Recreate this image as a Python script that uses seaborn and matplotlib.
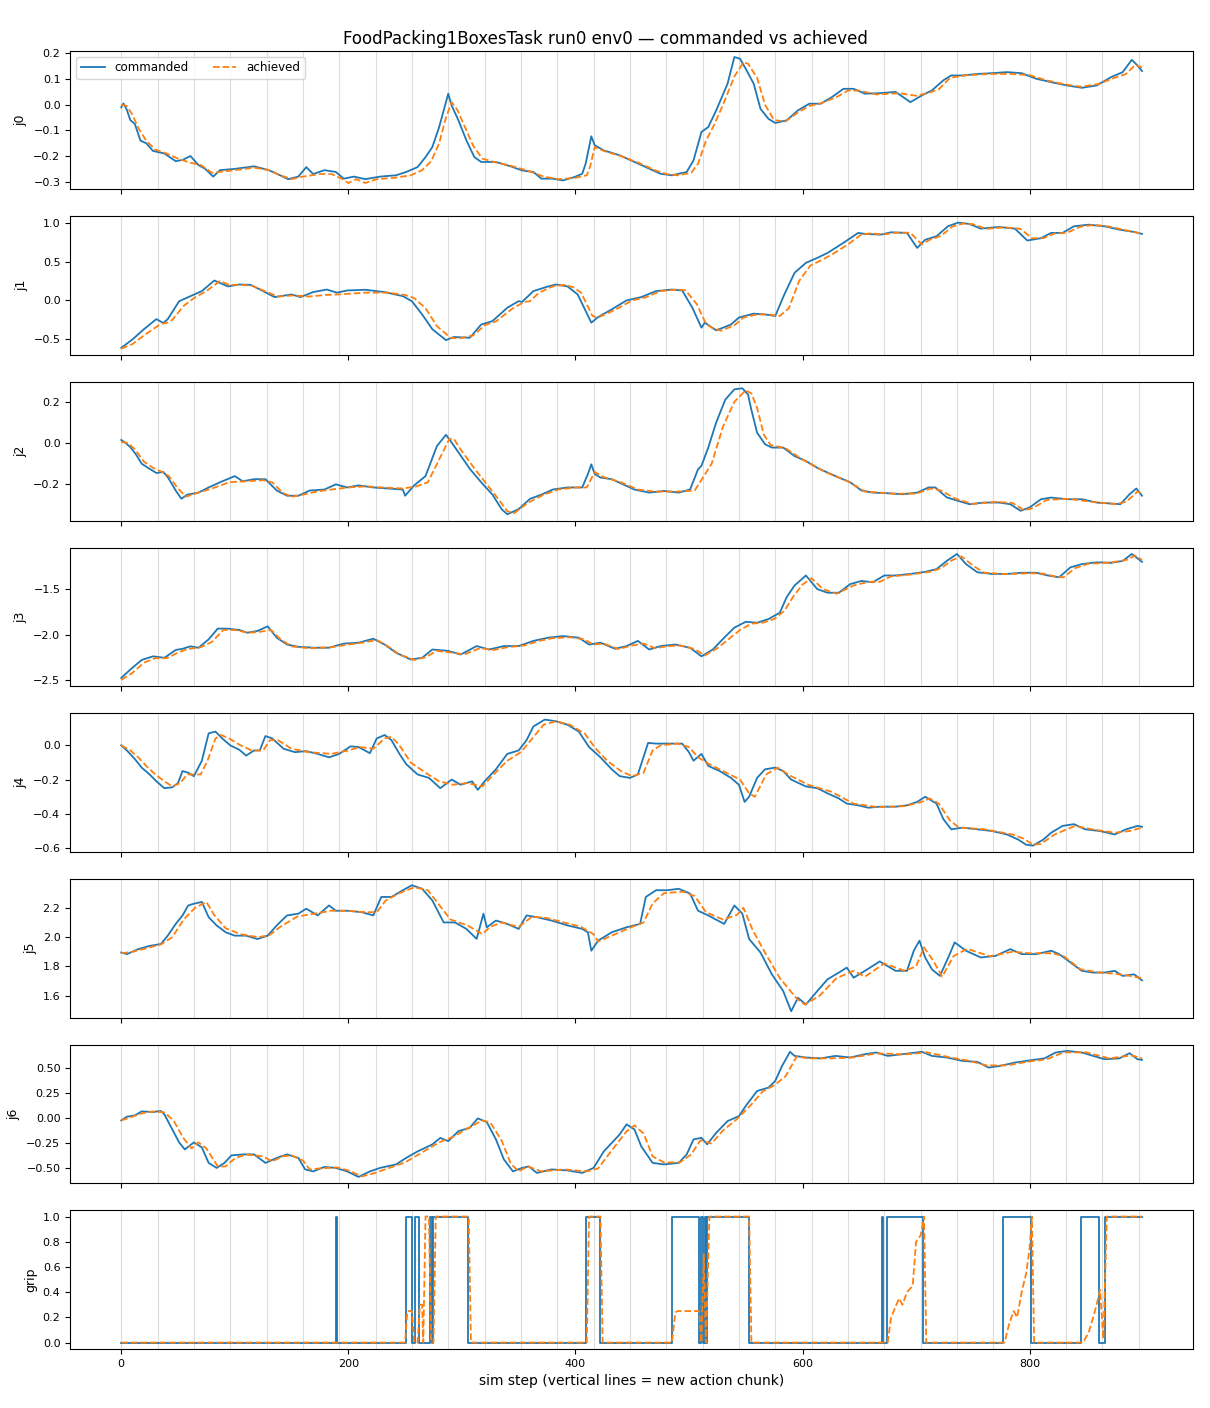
import numpy as np
import matplotlib
matplotlib.use("Agg")
import matplotlib.pyplot as plt
import seaborn as sns

# (sim step, value) pairs
j0_cmd = [(0,-0.01),(2,0.005),(5,-0.02),(8,-0.06),(12,-0.075),(17,-0.14),(22,-0.15),(28,-0.18),(38,-0.19),(48,-0.22),(54,-0.215),(61,-0.2),(68,-0.235),(74,-0.25),(81,-0.28),(87,-0.255),(100,-0.25),(117,-0.24),(130,-0.255),(140,-0.275),(147,-0.29),(156,-0.28),(163,-0.243),(169,-0.27),(179,-0.255),(189,-0.262),(196,-0.288),(205,-0.28),(215,-0.29),(228,-0.28),(242,-0.275),(251,-0.262),(261,-0.243),(268,-0.204),(274,-0.165),(280,-0.087),(284,-0.022),(288,0.043),(291,-0.003),(297,-0.061),(304,-0.139),(311,-0.204),(317,-0.223),(330,-0.223),(343,-0.24),(353,-0.256),(363,-0.262),(370,-0.288),(380,-0.288),(389,-0.295),(399,-0.282),(406,-0.269),(409,-0.23),(414,-0.123),(417,-0.158),(425,-0.178),(439,-0.197),(452,-0.223),(465,-0.249),(475,-0.269),(485,-0.275),(498,-0.262),(504,-0.217),(511,-0.106),(517,-0.087),(524,-0.022),(534,0.082),(540,0.186),(545,0.179),(550,0.14),(557,0.082),(563,-0.016),(570,-0.055),(576,-0.071),(586,-0.061),(596,-0.022),(606,0.004),(616,0.004),(626,0.03),(636,0.062),(645,0.062),(655,0.043),(668,0.045),(682,0.05),(695,0.01),(705,0.036),(714,0.056),(724,0.095),(731,0.114),(741,0.114),(754,0.12),(767,0.123),(780,0.127),(793,0.123),(806,0.101),(819,0.088),(833,0.075),(846,0.066),(859,0.075),(872,0.108),(882,0.127),(890,0.175),(895,0.153),(899,0.131)]
j0_ach = [(0,0.0),(5,-0.005),(10,-0.04),(15,-0.09),(22,-0.14),(30,-0.175),(40,-0.19),(50,-0.21),(60,-0.225),(70,-0.235),(80,-0.265),(90,-0.26),(100,-0.255),(117,-0.245),(130,-0.255),(140,-0.275),(150,-0.29),(160,-0.28),(175,-0.27),(185,-0.27),(195,-0.29),(200,-0.305),(207,-0.29),(215,-0.305),(225,-0.29),(240,-0.285),(255,-0.275),(265,-0.255),(273,-0.22),(280,-0.15),(286,-0.05),(291,0.01),(296,-0.02),(302,-0.08),(310,-0.16),(318,-0.21),(330,-0.225),(345,-0.24),(360,-0.26),(372,-0.28),(385,-0.29),(400,-0.285),(410,-0.275),(413,-0.24),(417,-0.165),(425,-0.18),(440,-0.2),(455,-0.225),(470,-0.255),(480,-0.27),(490,-0.275),(502,-0.265),(508,-0.23),(515,-0.14),(522,-0.08),(530,0.0),(540,0.11),(548,0.165),(552,0.16),(560,0.105),(567,0.0),(575,-0.06),(585,-0.065),(596,-0.03),(606,-0.005),(616,0.005),(630,0.03),(640,0.055),(650,0.055),(665,0.04),(685,0.045),(700,0.035),(710,0.045),(720,0.06),(730,0.105),(745,0.115),(765,0.12),(785,0.12),(800,0.115),(815,0.095),(830,0.08),(845,0.07),(860,0.08),(875,0.105),(885,0.12),(893,0.155),(899,0.145)]

j1_cmd = [(0,-0.61),(10,-0.5),(20,-0.37),(31,-0.24),(37,-0.29),(41,-0.24),(51,-0.01),(61,0.055),(71,0.12),(82,0.256),(94,0.18),(104,0.205),(114,0.2),(125,0.12),(135,0.043),(150,0.077),(158,0.043),(169,0.107),(181,0.14),(190,0.1),(199,0.128),(215,0.137),(232,0.107),(248,0.055),(256,-0.01),(265,-0.18),(274,-0.37),(286,-0.51),(293,-0.47),(307,-0.48),(317,-0.31),(327,-0.265),(340,-0.094),(350,-0.009),(353,-0.02),(363,0.12),(376,0.18),(383,0.205),(393,0.18),(402,0.077),(414,-0.286),(420,-0.214),(432,-0.115),(445,0.0),(458,0.043),(471,0.12),(485,0.14),(494,0.128),(503,-0.094),(511,-0.35),(514,-0.286),(524,-0.385),(537,-0.31),(544,-0.22),(557,-0.17),(567,-0.18),(576,-0.2),(584,0.077),(593,0.355),(603,0.483),(613,0.547),(622,0.61),(636,0.74),(649,0.868),(655,0.855),(669,0.846),(678,0.876),(692,0.868),(701,0.675),(708,0.78),(718,0.825),(728,0.953),(737,1.0),(747,0.983),(757,0.923),(773,0.944),(787,0.923),(798,0.77),(810,0.8),(819,0.868),(829,0.868),(839,0.953),(852,0.974),(866,0.953),(879,0.91),(892,0.88),(899,0.855)]
j1_ach = [(0,-0.62),(10,-0.56),(20,-0.45),(35,-0.3),(40,-0.29),(45,-0.25),(55,-0.07),(65,0.04),(75,0.12),(87,0.25),(95,0.2),(105,0.2),(115,0.19),(128,0.11),(138,0.05),(152,0.065),(165,0.05),(180,0.07),(195,0.08),(215,0.1),(235,0.1),(250,0.07),(258,0.03),(268,-0.1),(278,-0.33),(290,-0.48),(297,-0.49),(310,-0.45),(320,-0.32),(330,-0.27),(345,-0.1),(355,-0.02),(360,-0.01),(368,0.1),(380,0.18),(390,0.2),(398,0.17),(405,0.1),(415,-0.2),(420,-0.22),(435,-0.12),(450,0.0),(462,0.04),(475,0.12),(490,0.14),(497,0.13),(507,-0.05),(515,-0.3),(520,-0.35),(528,-0.39),(540,-0.32),(548,-0.22),(560,-0.18),(570,-0.18),(580,-0.2),(588,-0.1),(597,0.25),(607,0.45),(617,0.52),(627,0.6),(640,0.72),(652,0.85),(660,0.86),(672,0.85),(682,0.87),(695,0.87),(705,0.72),(712,0.78),(722,0.83),(732,0.95),(742,0.99),(750,0.98),(762,0.92),(778,0.94),(792,0.92),(802,0.8),(812,0.8),(822,0.86),(833,0.87),(845,0.95),(857,0.97),(870,0.95),(885,0.9),(899,0.86)]

j2_cmd = [(0,0.015),(4,0.0),(8,-0.02),(13,-0.055),(18,-0.1),(25,-0.125),(31,-0.145),(37,-0.14),(41,-0.165),(48,-0.23),(53,-0.27),(58,-0.25),(68,-0.24),(77,-0.215),(87,-0.19),(100,-0.16),(107,-0.185),(117,-0.175),(127,-0.175),(137,-0.23),(146,-0.255),(156,-0.255),(166,-0.23),(179,-0.225),(189,-0.2),(199,-0.215),(209,-0.205),(222,-0.215),(235,-0.22),(248,-0.225),(250,-0.255),(258,-0.205),(268,-0.16),(278,-0.015),(286,0.04),(290,0.01),(297,-0.045),(307,-0.125),(317,-0.19),(327,-0.25),(335,-0.32),(340,-0.345),(350,-0.32),(360,-0.27),(370,-0.25),(380,-0.225),(393,-0.215),(406,-0.215),(411,-0.15),(414,-0.103),(417,-0.15),(422,-0.167),(432,-0.175),(442,-0.2),(452,-0.225),(465,-0.24),(478,-0.232),(491,-0.24),(501,-0.225),(508,-0.127),(511,-0.11),(517,-0.022),(524,0.1),(532,0.21),(540,0.26),(547,0.265),(552,0.235),(555,0.16),(560,0.05),(567,-0.006),(573,-0.022),(583,-0.022),(593,-0.063),(603,-0.087),(613,-0.12),(622,-0.143),(632,-0.167),(642,-0.19),(652,-0.23),(662,-0.24),(675,-0.243),(688,-0.248),(701,-0.24),(711,-0.215),(717,-0.215),(727,-0.263),(737,-0.28),(747,-0.296),(760,-0.288),(773,-0.288),(783,-0.296),(792,-0.328),(800,-0.312),(810,-0.272),(819,-0.264),(833,-0.272),(846,-0.272),(859,-0.288),(872,-0.293),(880,-0.296),(888,-0.248),(894,-0.22),(899,-0.255)]
j2_ach = [(0,0.005),(6,0.0),(12,-0.03),(20,-0.09),(28,-0.12),(36,-0.14),(42,-0.16),(50,-0.22),(57,-0.26),(65,-0.245),(80,-0.22),(95,-0.19),(110,-0.185),(125,-0.18),(133,-0.19),(142,-0.24),(150,-0.26),(160,-0.25),(172,-0.235),(185,-0.225),(200,-0.215),(215,-0.21),(230,-0.215),(248,-0.22),(260,-0.21),(270,-0.19),(280,-0.08),(289,0.02),(293,0.02),(300,-0.04),(312,-0.13),(322,-0.2),(332,-0.27),(340,-0.33),(346,-0.34),(358,-0.29),(372,-0.25),(385,-0.225),(400,-0.215),(410,-0.215),(417,-0.14),(425,-0.165),(440,-0.19),(455,-0.225),(470,-0.235),(490,-0.235),(505,-0.23),(512,-0.17),(520,-0.1),(530,0.08),(540,0.2),(550,0.255),(555,0.24),(560,0.17),(566,0.04),(572,-0.01),(585,-0.025),(600,-0.08),(620,-0.14),(640,-0.185),(655,-0.235),(680,-0.245),(700,-0.245),(713,-0.22),(722,-0.23),(735,-0.27),(750,-0.295),(770,-0.285),(785,-0.29),(795,-0.325),(803,-0.315),(815,-0.275),(835,-0.27),(855,-0.285),(875,-0.295),(885,-0.285),(895,-0.235),(899,-0.245)]

j3_cmd = [(0,-2.478),(8,-2.386),(18,-2.28),(28,-2.24),(38,-2.256),(48,-2.17),(54,-2.157),(61,-2.13),(68,-2.146),(77,-2.053),(85,-1.935),(94,-1.935),(104,-1.95),(111,-1.98),(120,-1.96),(129,-1.91),(137,-2.035),(146,-2.11),(156,-2.135),(169,-2.145),(183,-2.145),(196,-2.1),(209,-2.09),(222,-2.046),(232,-2.11),(242,-2.2),(255,-2.275),(265,-2.256),(274,-2.165),(288,-2.18),(299,-2.22),(313,-2.127),(324,-2.165),(337,-2.127),(350,-2.127),(363,-2.07),(376,-2.035),(389,-2.017),(403,-2.035),(412,-2.11),(422,-2.09),(435,-2.157),(445,-2.127),(455,-2.07),(465,-2.165),(475,-2.127),(488,-2.11),(501,-2.146),(511,-2.24),(521,-2.165),(531,-2.035),(540,-1.924),(550,-1.86),(560,-1.87),(570,-1.83),(580,-1.76),(586,-1.59),(593,-1.46),(603,-1.35),(613,-1.5),(622,-1.54),(632,-1.54),(642,-1.445),(652,-1.41),(662,-1.425),(672,-1.35),(682,-1.35),(695,-1.333),(708,-1.31),(718,-1.28),(727,-1.19),(736,-1.113),(744,-1.225),(754,-1.315),(767,-1.333),(780,-1.333),(793,-1.32),(806,-1.32),(816,-1.35),(826,-1.37),(836,-1.26),(846,-1.225),(859,-1.205),(872,-1.21),(882,-1.19),(890,-1.113),(899,-1.2)]
j3_ach = [(0,-2.5),(10,-2.42),(20,-2.31),(30,-2.26),(40,-2.26),(50,-2.2),(58,-2.16),(70,-2.14),(80,-2.08),(90,-1.95),(100,-1.95),(112,-1.98),(122,-1.97),(132,-1.95),(140,-2.05),(150,-2.13),(165,-2.15),(185,-2.14),(200,-2.11),(212,-2.09),(225,-2.06),(235,-2.13),(245,-2.22),(258,-2.28),(268,-2.25),(278,-2.18),(292,-2.2),(302,-2.22),(316,-2.15),(328,-2.17),(340,-2.14),(355,-2.12),(368,-2.07),(380,-2.04),(395,-2.03),(407,-2.05),(416,-2.11),(425,-2.1),(438,-2.16),(450,-2.12),(460,-2.1),(470,-2.15),(480,-2.13),(492,-2.12),(505,-2.16),(514,-2.23),(525,-2.15),(535,-2.05),(545,-1.95),(555,-1.88),(565,-1.87),(575,-1.83),(584,-1.74),(592,-1.58),(600,-1.45),(608,-1.38),(618,-1.5),(630,-1.55),(645,-1.46),(658,-1.42),(668,-1.42),(678,-1.36),(695,-1.34),(712,-1.31),(722,-1.27),(732,-1.18),(740,-1.14),(750,-1.24),(760,-1.32),(780,-1.335),(800,-1.325),(812,-1.33),(822,-1.36),(830,-1.37),(840,-1.27),(852,-1.22),(870,-1.21),(885,-1.18),(893,-1.13),(899,-1.18)]

j4_cmd = [(0,0.0),(5,-0.03),(12,-0.08),(18,-0.13),(25,-0.17),(31,-0.21),(38,-0.25),(45,-0.245),(50,-0.22),(54,-0.15),(59,-0.16),(64,-0.18),(71,-0.09),(77,0.07),(83,0.08),(89,0.04),(96,0.0),(104,-0.026),(110,-0.06),(117,-0.03),(122,-0.03),(127,0.054),(133,0.04),(143,-0.02),(153,-0.04),(163,-0.034),(173,-0.05),(183,-0.07),(192,-0.05),(202,-0.006),(209,-0.01),(219,-0.046),(225,0.04),(232,0.06),(238,0.03),(245,-0.05),(251,-0.11),(261,-0.17),(271,-0.19),(281,-0.25),(291,-0.2),(299,-0.23),(309,-0.21),(314,-0.26),(320,-0.21),(330,-0.14),(340,-0.05),(350,-0.03),(357,0.03),(363,0.11),(373,0.15),(383,0.14),(393,0.12),(403,0.08),(412,-0.01),(422,-0.07),(432,-0.14),(439,-0.18),(448,-0.19),(455,-0.17),(464,0.014),(471,0.01),(485,0.01),(494,0.01),(500,-0.04),(504,-0.09),(511,-0.05),(517,-0.12),(527,-0.15),(537,-0.19),(544,-0.23),(549,-0.33),(553,-0.3),(560,-0.19),(567,-0.14),(576,-0.13),(583,-0.15),(590,-0.2),(603,-0.24),(613,-0.25),(622,-0.28),(632,-0.31),(639,-0.34),(649,-0.35),(658,-0.364),(668,-0.358),(682,-0.358),(692,-0.35),(701,-0.33),(708,-0.3),(718,-0.34),(724,-0.43),(731,-0.49),(741,-0.48),(754,-0.49),(767,-0.5),(780,-0.52),(790,-0.55),(797,-0.58),(803,-0.585),(812,-0.55),(819,-0.51),(829,-0.47),(839,-0.46),(849,-0.49),(862,-0.5),(875,-0.52),(885,-0.49),(895,-0.47),(899,-0.475)]
j4_ach = [(0,0.0),(8,-0.03),(15,-0.07),(22,-0.12),(30,-0.17),(38,-0.21),(45,-0.24),(52,-0.22),(58,-0.17),(63,-0.17),(70,-0.17),(76,-0.09),(83,0.04),(88,0.06),(95,0.04),(105,0.0),(115,-0.03),(125,-0.03),(131,0.03),(138,0.03),(150,-0.02),(165,-0.04),(185,-0.05),(200,-0.03),(210,-0.01),(222,-0.02),(232,0.04),(238,0.05),(245,0.0),(255,-0.1),(268,-0.16),(280,-0.21),(292,-0.23),(305,-0.22),(318,-0.24),(328,-0.17),(340,-0.09),(352,-0.04),(362,0.04),(372,0.12),(383,0.14),(395,0.12),(408,0.07),(418,-0.02),(428,-0.09),(440,-0.15),(450,-0.18),(460,-0.16),(468,-0.03),(475,0.0),(490,0.01),(500,-0.01),(508,-0.07),(518,-0.11),(530,-0.15),(545,-0.2),(553,-0.28),(558,-0.3),(568,-0.17),(578,-0.13),(590,-0.18),(605,-0.23),(625,-0.27),(645,-0.34),(665,-0.36),(690,-0.355),(705,-0.33),(712,-0.31),(720,-0.34),(730,-0.44),(738,-0.48),(760,-0.49),(785,-0.52),(795,-0.545),(803,-0.58),(810,-0.575),(822,-0.52),(840,-0.47),(855,-0.49),(875,-0.51),(888,-0.5),(899,-0.48)]

j5_cmd = [(0,1.895),(5,1.884),(15,1.918),(25,1.94),(35,1.953),(41,2.01),(48,2.09),(54,2.148),(59,2.216),(64,2.228),(71,2.24),(77,2.136),(84,2.08),(92,2.033),(100,2.01),(110,2.01),(120,1.987),(129,2.01),(137,2.08),(146,2.148),(156,2.16),(163,2.194),(173,2.148),(183,2.216),(189,2.18),(199,2.18),(212,2.17),(222,2.148),(229,2.274),(238,2.274),(248,2.32),(256,2.354),(265,2.33),(274,2.25),(284,2.1),(294,2.1),(304,2.056),(313,1.988),(319,2.16),(322,2.067),(330,2.113),(340,2.09),(350,2.056),(357,2.148),(366,2.136),(379,2.113),(393,2.08),(406,2.056),(411,2.033),(414,1.907),(420,1.976),(432,2.033),(445,2.067),(457,2.09),(462,2.274),(471,2.32),(481,2.32),(491,2.33),(501,2.297),(508,2.18),(517,2.148),(531,2.09),(540,2.216),(547,2.16),(553,1.987),(563,1.895),(573,1.746),(583,1.632),(590,1.494),(596,1.586),(603,1.54),(613,1.632),(622,1.712),(632,1.758),(639,1.792),(645,1.723),(655,1.77),(668,1.834),(682,1.77),(692,1.77),(698,1.907),(703,1.976),(708,1.861),(714,1.78),(721,1.735),(729,1.872),(734,1.964),(744,1.907),(757,1.861),(770,1.872),(783,1.918),(793,1.884),(806,1.884),(819,1.907),(826,1.884),(836,1.827),(846,1.77),(856,1.758),(866,1.758),(875,1.77),(882,1.735),(892,1.746),(899,1.705)]
j5_ach = [(0,1.89),(10,1.9),(20,1.92),(35,1.95),(45,2.0),(55,2.12),(65,2.2),(75,2.24),(82,2.15),(92,2.06),(105,2.02),(120,2.0),(130,2.01),(140,2.07),(155,2.14),(170,2.16),(185,2.18),(200,2.18),(215,2.17),(225,2.17),(233,2.25),(245,2.3),(258,2.34),(270,2.32),(280,2.22),(290,2.12),(305,2.08),(318,2.02),(325,2.07),(335,2.1),(350,2.07),(362,2.14),(375,2.13),(390,2.1),(405,2.07),(416,2.02),(420,1.97),(435,2.02),(450,2.07),(460,2.1),(468,2.23),(478,2.3),(495,2.31),(505,2.28),(515,2.17),(530,2.12),(542,2.15),(548,2.2),(556,2.05),(568,1.88),(580,1.72),(595,1.58),(602,1.54),(615,1.6),(630,1.72),(645,1.77),(655,1.73),(672,1.82),(690,1.77),(700,1.8),(707,1.93),(715,1.84),(723,1.73),(733,1.87),(745,1.92),(765,1.87),(785,1.9),(800,1.89),(820,1.89),(830,1.87),(845,1.78),(860,1.76),(875,1.75),(885,1.74),(899,1.72)]

j6_cmd = [(0,-0.02),(5,0.017),(12,0.03),(18,0.07),(28,0.064),(35,0.074),(38,0.04),(45,-0.11),(51,-0.24),(56,-0.31),(64,-0.24),(71,-0.29),(77,-0.445),(84,-0.495),(91,-0.445),(97,-0.37),(107,-0.36),(117,-0.36),(127,-0.445),(137,-0.395),(146,-0.36),(156,-0.395),(162,-0.51),(169,-0.53),(179,-0.485),(189,-0.495),(199,-0.53),(209,-0.585),(219,-0.53),(228,-0.495),(242,-0.46),(251,-0.395),(261,-0.33),(274,-0.26),(281,-0.195),(288,-0.227),(297,-0.127),(307,-0.094),(314,0.0),(322,-0.037),(330,-0.21),(337,-0.41),(345,-0.53),(353,-0.495),(359,-0.48),(366,-0.545),(379,-0.51),(393,-0.52),(406,-0.545),(416,-0.495),(425,-0.33),(439,-0.16),(445,-0.06),(452,-0.11),(458,-0.28),(468,-0.445),(478,-0.46),(491,-0.445),(498,-0.36),(504,-0.21),(511,-0.194),(516,-0.26),(524,-0.144),(534,-0.027),(544,0.023),(550,0.124),(560,0.274),(570,0.308),(576,0.375),(582,0.525),(589,0.666),(593,0.625),(603,0.609),(616,0.6),(629,0.625),(642,0.609),(655,0.642),(665,0.659),(675,0.625),(688,0.642),(705,0.666),(714,0.625),(727,0.609),(741,0.575),(754,0.565),(764,0.508),(774,0.525),(787,0.558),(803,0.585),(813,0.6),(823,0.659),(833,0.675),(846,0.659),(856,0.625),(866,0.592),(879,0.6),(888,0.652),(895,0.592),(899,0.585)]
j6_ach = [(0,-0.02),(8,0.01),(18,0.05),(28,0.07),(38,0.06),(46,-0.02),(55,-0.2),(62,-0.3),(68,-0.24),(75,-0.3),(85,-0.48),(92,-0.48),(100,-0.4),(110,-0.36),(125,-0.38),(133,-0.43),(142,-0.38),(150,-0.37),(160,-0.42),(166,-0.51),(175,-0.5),(190,-0.49),(200,-0.52),(212,-0.58),(222,-0.55),(235,-0.5),(250,-0.44),(265,-0.34),(280,-0.24),(293,-0.18),(305,-0.1),(318,-0.02),(325,-0.04),(335,-0.22),(343,-0.45),(350,-0.53),(358,-0.48),(370,-0.53),(390,-0.51),(410,-0.53),(420,-0.5),(430,-0.35),(445,-0.13),(452,-0.07),(460,-0.15),(468,-0.38),(478,-0.44),(492,-0.44),(502,-0.36),(510,-0.22),(520,-0.25),(530,-0.12),(542,-0.01),(555,0.14),(565,0.27),(575,0.33),(585,0.42),(595,0.62),(605,0.6),(625,0.6),(645,0.61),(665,0.65),(690,0.64),(710,0.66),(730,0.61),(745,0.58),(762,0.53),(780,0.53),(800,0.57),(815,0.59),(830,0.66),(850,0.66),(870,0.6),(890,0.63),(899,0.6)]

# gripper: commanded is a step signal (value holds until next change point)
grip_cmd = [(0,0),(189,1),(190,0),(251,1),(256,0),(259,1),(262,0),(272,1),(274,0),(275,1),(305,0),(409,1),(422,0),(485,1),(509,0),(511,1),(512,0),(514,1),(515,0),(516,1),(553,0),(670,1),(671,0),(674,1),(706,0),(777,1),(801,0),(845,1),(861,0),(866,1),(899,1)]
grip_ach = [(0,0),(250,0),(252,0.25),(256,0.25),(258,0.0),(261,0.0),(263,0.3),(265,0.3),(266,0.0),(268,1.0),(271,1.0),(273,0.0),(275,0.0),(277,1.0),(306,1.0),(308,0.0),(410,0.0),(412,1.0),(422,1.0),(424,0.0),(485,0.0),(488,0.24),(490,0.25),(509,0.25),(511,0.0),(513,0.7),(515,0.0),(518,1.0),(553,1.0),(555,0.0),(675,0.0),(678,0.2),(685,0.35),(688,0.3),(692,0.4),(697,0.45),(700,0.8),(704,0.85),(707,1.0),(709,0.0),(778,0.0),(782,0.15),(786,0.25),(789,0.2),(793,0.4),(797,0.55),(800,0.75),(802,1.0),(804,0.0),(847,0.0),(852,0.08),(856,0.2),(859,0.3),(862,0.42),(865,0.03),(868,1.0),(899,1.0)]

names = ["j0", "j1", "j2", "j3", "j4", "j5", "j6", "grip"]
commanded = [j0_cmd, j1_cmd, j2_cmd, j3_cmd, j4_cmd, j5_cmd, j6_cmd, grip_cmd]
achieved = [j0_ach, j1_ach, j2_ach, j3_ach, j4_ach, j5_ach, j6_ach, grip_ach]
chunk_len = 32
n_steps = 900

fig, axes = plt.subplots(8, 1, figsize=(12.1, 14.08), sharex=True)
plt.subplots_adjust(left=0.058, right=0.986, top=0.964, bottom=0.042, hspace=0.195)

for ax, name, cmd, ach in zip(axes, names, commanded, achieved):
    for s in range(0, n_steps, chunk_len):
        ax.axvline(s, color="#dcdcdc", lw=0.8, zorder=0)
    c = np.array(cmd, dtype=float).T
    a = np.array(ach, dtype=float).T
    extra = {"drawstyle": "steps-post"} if name == "grip" else {}
    sns.lineplot(x=c[0], y=c[1], ax=ax, color="#1f77b4", lw=1.3,
                 label="commanded", legend=False, errorbar=None, **extra)
    sns.lineplot(x=a[0], y=a[1], ax=ax, color="#ff7f0e", lw=1.3, ls="--",
                 label="achieved", legend=False, errorbar=None)
    ax.set_ylabel(name, fontsize=9)
    ax.set_xlabel("")
    ax.tick_params(labelsize=8)

axes[0].legend(loc="upper left", ncol=2, fontsize=8.6)
axes[-1].set_xlabel("sim step (vertical lines = new action chunk)", fontsize=10)
fig.suptitle("FoodPacking1BoxesTask run0 env0 — commanded vs achieved", fontsize=12, y=0.979)

plt.savefig("out.png", dpi=100)
plt.close(fig)
